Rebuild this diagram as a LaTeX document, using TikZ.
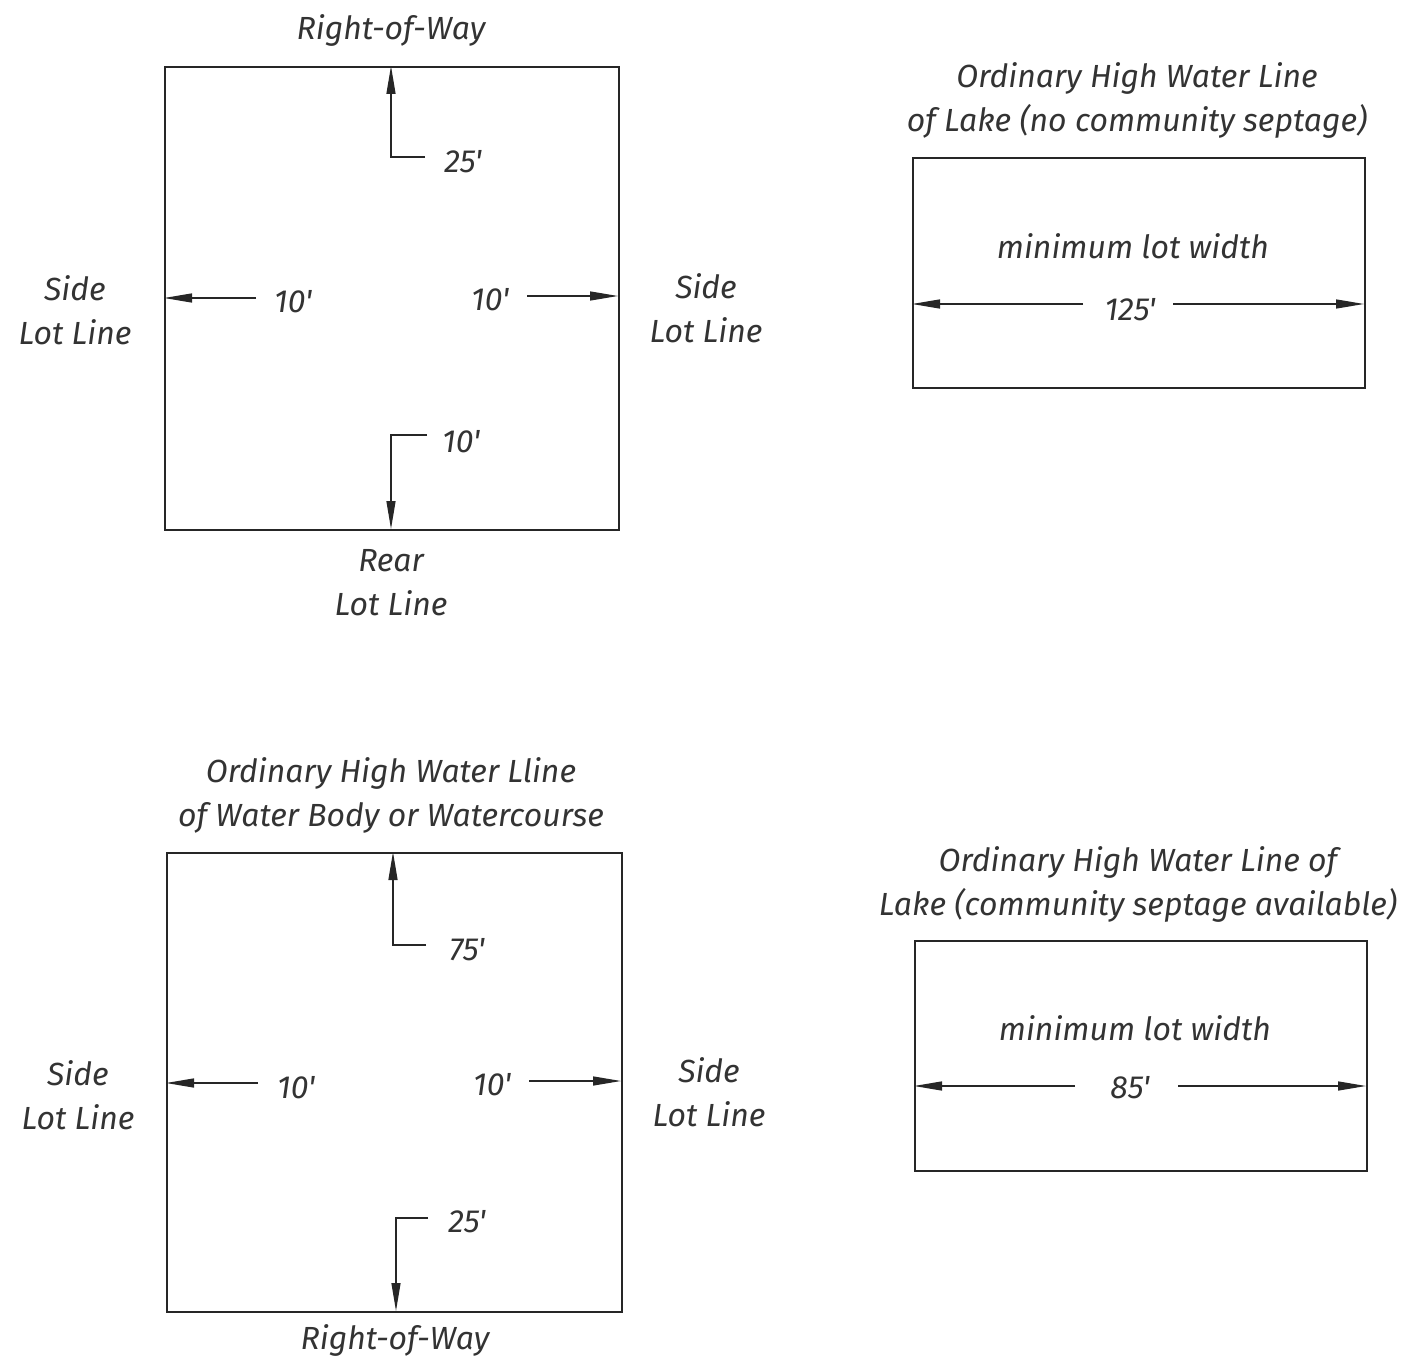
\documentclass[tikz,border=0pt]{standalone}
\usepackage{fontspec}
\newfontfamily\hand{Fira Sans}
\usetikzlibrary{arrows.meta}
\begin{document}
\begin{tikzpicture}[x=1pt,y=-1pt,
  lot/.style={draw=black!85,line width=2pt},
  dim/.style={draw=black!85,line width=1.4pt},
  tipped/.style={dim,-{Triangle[length=28pt,width=9pt]}},
  lbl/.style={inner sep=0pt,align=center,font=\hand\itshape\fontsize{32}{44}\selectfont,text=black!80}]
\useasboundingbox (0,0) rectangle (1406,1359);
% ---------- top-left lot ----------
\node[lot,inner sep=0pt,minimum width=454pt,minimum height=463pt,anchor=north west] (lotA) at (164,66) {};
\node[lbl] (rowA) at (391,30) {Right-of-Way};
\node[lbl] (sideAL) at (75,310) {Side\\Lot Line};
\node[lbl] (sideAR) at (706,308) {Side\\Lot Line};
\node[lbl] (rearA) at (391,583) {Rear\\Lot Line};
\node[lbl] (dAT) at (463,162) {25'};
\node[lbl] (dAL) at (293,302) {10'};
\node[lbl] (dAR) at (490,300) {10'};
\node[lbl] (dAB) at (461,442) {10'};
\coordinate (aTe) at (425,157); \coordinate (aTc) at (391,157); \coordinate (aTt) at (391,66);
\draw[tipped] (aTe) -- (aTc) -- (aTt);
\coordinate (aLs) at (256,298); \coordinate (aLt) at (164,298);
\draw[tipped] (aLs) -- (aLt);
\coordinate (aRs) at (527,296); \coordinate (aRt) at (618,296);
\draw[tipped] (aRs) -- (aRt);
\coordinate (aBe) at (427,435); \coordinate (aBc) at (391,435); \coordinate (aBt) at (391,529);
\draw[tipped] (aBe) -- (aBc) -- (aBt);
% ---------- top-right lot ----------
\node[lot,inner sep=0pt,minimum width=452pt,minimum height=230pt,anchor=north west] (lotB) at (912,157) {};
\node[lbl] (titleB) at (1137,100) {Ordinary High Water Line\\of Lake (no community septage)};
\node[lbl] (minB) at (1133,246) {minimum lot width};
\node[lbl] (wB) at (1130,310) {125'};
\coordinate (bLs) at (1083,304); \coordinate (bLt) at (912,304);
\coordinate (bRs) at (1173,304); \coordinate (bRt) at (1364,304);
\draw[tipped] (bLs) -- (bLt);
\draw[tipped] (bRs) -- (bRt);
% ---------- bottom-left lot ----------
\node[lot,inner sep=0pt,minimum width=455pt,minimum height=459pt,anchor=north west] (lotC) at (166,852) {};
\node[lbl] (titleC) at (391,795) {Ordinary High Water Lline\\of Water Body or Watercourse};
\node[lbl] (sideCL) at (78,1095) {Side\\Lot Line};
\node[lbl] (sideCR) at (709,1092) {Side\\Lot Line};
\node[lbl] (rowC) at (395,1340) {Right-of-Way};
\node[lbl] (dCT) at (467,950) {75'};
\node[lbl] (dCL) at (296,1088) {10'};
\node[lbl] (dCR) at (492,1085) {10'};
\node[lbl] (dCB) at (467,1222) {25'};
\coordinate (cTe) at (426,945); \coordinate (cTc) at (393,945); \coordinate (cTt) at (393,852);
\draw[tipped] (cTe) -- (cTc) -- (cTt);
\coordinate (cLs) at (258,1083); \coordinate (cLt) at (166,1083);
\draw[tipped] (cLs) -- (cLt);
\coordinate (cRs) at (529,1081); \coordinate (cRt) at (621,1081);
\draw[tipped] (cRs) -- (cRt);
\coordinate (cBe) at (428,1218); \coordinate (cBc) at (396,1218); \coordinate (cBt) at (396,1311);
\draw[tipped] (cBe) -- (cBc) -- (cBt);
% ---------- bottom-right lot ----------
\node[lot,inner sep=0pt,minimum width=452pt,minimum height=230pt,anchor=north west] (lotD) at (914,940) {};
\node[lbl] (titleD) at (1138,884) {Ordinary High Water Line of\\Lake (community septage available)};
\node[lbl] (minD) at (1135,1028) {minimum lot width};
\node[lbl] (wD) at (1130,1088) {85'};
\coordinate (dLs) at (1075,1086); \coordinate (dLt) at (914,1086);
\coordinate (dRs) at (1178,1086); \coordinate (dRt) at (1366,1086);
\draw[tipped] (dLs) -- (dLt);
\draw[tipped] (dRs) -- (dRt);
\end{tikzpicture}
\end{document}
